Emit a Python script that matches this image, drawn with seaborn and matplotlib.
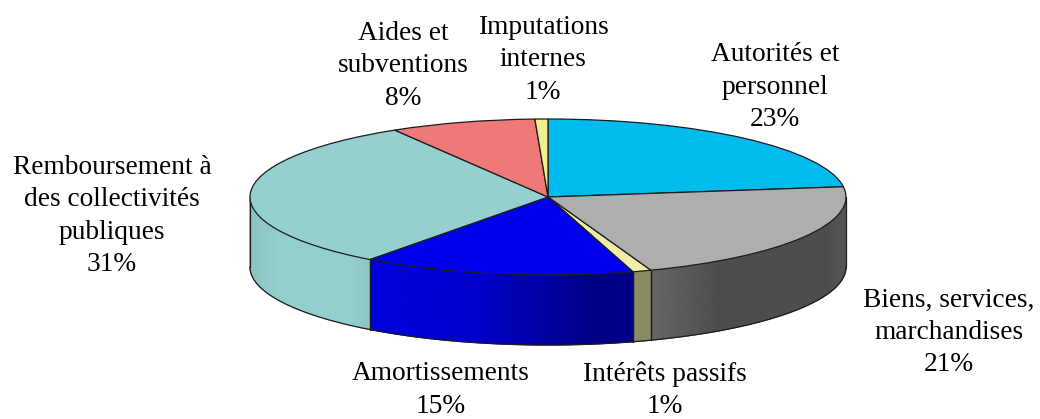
import numpy as np
import matplotlib
matplotlib.use("Agg")
import matplotlib.pyplot as plt
from matplotlib.colors import LinearSegmentedColormap
import seaborn as sns

# Data
categories = ["Autorités et\npersonnel", "Biens, services,\nmarchandises", "Intérêts passifs",
              "Amortissements", "Remboursement à\ndes collectivités\npubliques",
              "Aides et\nsubventions", "Imputations\ninternes"]
shares = [22.9, 21.5, 1.0, 14.8, 31.2, 7.9, 0.7]
percent_labels = ["23%", "21%", "1%", "15%", "31%", "8%", "1%"]

# Style
top_colors = ["#00BBEE", "#AEAEAE", "#EEEEA8", "#0000EE", "#95D0D0", "#EF7878", "#EEEE90"]
wall_stops = [
    None,
    [(0, "#666666"), (0.35, "#4D4D4D"), (0.9, "#4D4D4D"), (1, "#555555")],
    [(0, "#8B8B68"), (1, "#8B8B68")],
    [(0, "#0000DD"), (0.4, "#0000CC"), (0.85, "#000088"), (1, "#000088")],
    [(0, "#8CC2C2"), (0.25, "#93CFCF"), (0.85, "#93CFCF"), (1, "#8CC6C6")],
    None, None,
]
label_centres = [(775, 87), (949, 332), (665, 390), (441, 390), (112, 216), (403, 66), (543, 60)]

W, H = 1040, 419
CX, CY, RX, RY, DEPTH = 548, 197, 298, 78, 70
EDGE = "#1c1c1c"

sns.set_theme(style="white")
plt.rcParams["font.family"] = ["Liberation Serif", "DejaVu Serif"]

fig = plt.figure(figsize=(W / 100, H / 100), dpi=100)
ax = fig.add_axes([0, 0, 1, 1])

# Cylinder wall: unit ellipse in data space, the wall is DEPTH pixels below it.
depth = DEPTH / RY
edges = 90 - np.cumsum([0] + shares) / sum(shares) * 360
for i, stops in enumerate(wall_stops):
    hi, lo = min(edges[i], 0), max(edges[i + 1], -180)
    if stops is None or hi <= lo:
        continue
    t = np.radians(np.linspace(lo, hi, 90))
    x, y = np.cos(t), np.sin(t)
    X = np.vstack([x, x])
    Y = np.vstack([y, y - depth])
    cmap = LinearSegmentedColormap.from_list(f"w{i}", stops)
    ax.pcolormesh(X, Y, X, cmap=cmap, shading="gouraud", vmin=x.min(), vmax=x.max(), zorder=1)
    ax.plot(x, y - depth, color=EDGE, lw=0.9, zorder=2)
    for xe, ye in ((x[0], y[0]), (x[-1], y[-1])):
        ax.plot([xe, xe], [ye, ye - depth], color=EDGE, lw=0.9, zorder=2)

# Top face
wedges, _ = ax.pie(shares, startangle=90, counterclock=False, colors=top_colors,
                   radius=1, wedgeprops=dict(edgecolor=EDGE, linewidth=0.9))
for w in wedges:
    w.set_zorder(3)

ax.set_aspect("auto")
ax.set_xlim(-CX / RX, (W - CX) / RX)
ax.set_ylim((CY - H) / RY, CY / RY)
ax.axis("off")

for cat, pct, (px, py) in zip(categories, percent_labels, label_centres):
    ax.text(px / W, 1 - py / H, f"{cat}\n{pct}", transform=ax.transAxes, ha="center",
            va="center", ma="center", fontsize=19.7, color="black", linespacing=1.37, zorder=5)

fig.savefig("out.png", dpi=100, facecolor="white")
